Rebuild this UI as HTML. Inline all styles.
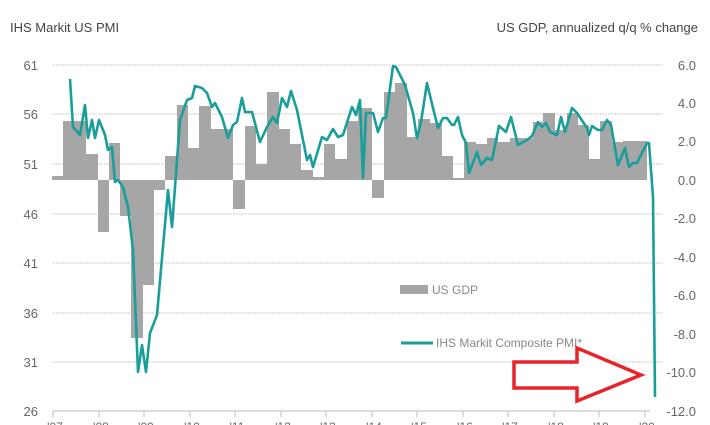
<!DOCTYPE html>
<html><head><meta charset="utf-8"><style>
html,body{margin:0;padding:0;background:#fff;}
svg{display:block;font-family:"Liberation Sans",Arial,sans-serif;}
</style></head><body>
<svg width="710" height="425" viewBox="0 0 710 425" xmlns="http://www.w3.org/2000/svg">
<text x="10" y="32" font-size="13" fill="#444">IHS Markit US PMI</text>
<text x="698" y="32" font-size="13" fill="#444" text-anchor="end">US GDP, annualized q/q % change</text>
<g stroke="#c8c8c8" stroke-width="1" stroke-dasharray="2,1">
<line x1="53" x2="663" y1="65" y2="65"/><line x1="53" x2="663" y1="114" y2="114"/>
<line x1="53" x2="663" y1="164" y2="164"/><line x1="53" x2="663" y1="214" y2="214"/>
<line x1="53" x2="663" y1="263" y2="263"/><line x1="53" x2="663" y1="313" y2="313"/>
<line x1="53" x2="663" y1="362" y2="362"/>
</g>
<g font-size="13" fill="#666" text-anchor="end">
<text x="38" y="70">61</text><text x="38" y="119">56</text><text x="38" y="169">51</text>
<text x="38" y="219">46</text><text x="38" y="268">41</text><text x="38" y="318">36</text>
<text x="38" y="367">31</text><text x="38" y="416">26</text>
</g>
<g font-size="13" fill="#666" text-anchor="end">
<text x="696" y="70">6.0</text><text x="696" y="108">4.0</text><text x="696" y="146">2.0</text>
<text x="696" y="185">0.0</text><text x="696" y="223">-2.0</text><text x="696" y="262">-4.0</text>
<text x="696" y="300">-6.0</text><text x="696" y="339">-8.0</text><text x="696" y="377">-10.0</text>
<text x="696" y="416">-12.0</text>
</g>
<g fill="#a6a6a6">
<rect x="52" y="176" width="11" height="4"/>
<rect x="63" y="121" width="23" height="59"/>
<rect x="86" y="154" width="12" height="26"/>
<rect x="98" y="180" width="11" height="52"/>
<rect x="109" y="143" width="11" height="37"/>
<rect x="120" y="180" width="11" height="36"/>
<rect x="131" y="180" width="12" height="158"/>
<rect x="143" y="180" width="11" height="105"/>
<rect x="154" y="180" width="11" height="10"/>
<rect x="165" y="156" width="12" height="24"/>
<rect x="177" y="105" width="11" height="75"/>
<rect x="188" y="148" width="11" height="32"/>
<rect x="199" y="106" width="12" height="74"/>
<rect x="211" y="129" width="22" height="51"/>
<rect x="233" y="180" width="12" height="29"/>
<rect x="245" y="126" width="11" height="54"/>
<rect x="256" y="164" width="11" height="16"/>
<rect x="267" y="92" width="12" height="88"/>
<rect x="279" y="129" width="11" height="51"/>
<rect x="290" y="144" width="11" height="36"/>
<rect x="301" y="170" width="12" height="10"/>
<rect x="313" y="177" width="11" height="3"/>
<rect x="324" y="144" width="11" height="36"/>
<rect x="335" y="159" width="12" height="21"/>
<rect x="347" y="121" width="11" height="59"/>
<rect x="358" y="108" width="14" height="72"/>
<rect x="372" y="180" width="12" height="18"/>
<rect x="384" y="92" width="11" height="88"/>
<rect x="395" y="83" width="12" height="97"/>
<rect x="407" y="137" width="11" height="43"/>
<rect x="418" y="119" width="12" height="61"/>
<rect x="430" y="123" width="12" height="57"/>
<rect x="442" y="156" width="11" height="24"/>
<rect x="453" y="178" width="11" height="2"/>
<rect x="464" y="142" width="12" height="38"/>
<rect x="476" y="144" width="11" height="36"/>
<rect x="487" y="138" width="11" height="42"/>
<rect x="498" y="142" width="12" height="38"/>
<rect x="510" y="138" width="23" height="42"/>
<rect x="533" y="122" width="10" height="58"/>
<rect x="543" y="113" width="12" height="67"/>
<rect x="555" y="130" width="12" height="50"/>
<rect x="567" y="113" width="11" height="67"/>
<rect x="578" y="125" width="11" height="55"/>
<rect x="589" y="159" width="11" height="21"/>
<rect x="600" y="121" width="12" height="59"/>
<rect x="612" y="142" width="11" height="38"/>
<rect x="623" y="141" width="24" height="39"/>
</g>
<polyline fill="none" stroke="#1a9e9a" stroke-width="2.6" stroke-linejoin="round" points="70,79 73,127 80,135 85,105 88,138 92,120 95,138 99,120 105,135 108,150 112,147 115,182 118,180 123,187 128,207 133,250 138,372 142,345 146,372 150,333 157,315 168,190 172,227 180,120 187,100 192,98 195,86 202,88 207,93 212,107 215,103 222,117 228,138 233,125 237,122 242,98 245,112 252,112 260,142 267,127 273,117 277,123 282,98 287,107 291,91 297,110 307,160 310,155 313,167 322,137 327,140 333,129 338,137 343,135 352,107 356,115 360,100 363,178 366,113 373,113 378,132 383,118 386,118 393,66 396,67 405,85 413,113 417,138 421,122 427,83 433,108 438,128 443,118 447,118 452,125 454,125 458,117 462,135 466,143 469,173 477,152 481,165 487,158 492,160 499,126 506,132 511,117 518,145 527,140 532,136 538,122 542,127 546,123 550,132 557,135 561,117 565,132 572,108 577,113 587,128 589,135 592,126 598,130 602,130 607,120 611,125 618,165 625,148 629,167 633,163 637,163 647,143 649,143 653,197 655,397"/>
<line x1="53" x2="650" y1="411" y2="411" stroke="#bbb" stroke-width="1"/>
<g stroke="#bbb" stroke-width="1">
<line x1="53" x2="53" y1="411" y2="417"/><line x1="99" x2="99" y1="411" y2="417"/><line x1="144" x2="144" y1="411" y2="417"/><line x1="190" x2="190" y1="411" y2="417"/><line x1="235" x2="235" y1="411" y2="417"/><line x1="281" x2="281" y1="411" y2="417"/><line x1="326" x2="326" y1="411" y2="417"/><line x1="372" x2="372" y1="411" y2="417"/><line x1="417" x2="417" y1="411" y2="417"/><line x1="463" x2="463" y1="411" y2="417"/><line x1="508" x2="508" y1="411" y2="417"/><line x1="554" x2="554" y1="411" y2="417"/><line x1="599" x2="599" y1="411" y2="417"/><line x1="645" x2="645" y1="411" y2="417"/>
</g>
<g font-size="12" fill="#666" text-anchor="middle">
<text x="55" y="431">'07</text><text x="101" y="431">'08</text><text x="146" y="431">'09</text><text x="192" y="431">'10</text><text x="237" y="431">'11</text><text x="283" y="431">'12</text><text x="328" y="431">'13</text><text x="374" y="431">'14</text><text x="419" y="431">'15</text><text x="465" y="431">'16</text><text x="510" y="431">'17</text><text x="556" y="431">'18</text><text x="601" y="431">'19</text><text x="647" y="431">'20</text>
</g>
<rect x="400" y="285" width="28" height="9" fill="#a6a6a6"/>
<text x="432" y="294" font-size="12" fill="#888">US GDP</text>
<line x1="401" x2="433" y1="343" y2="343" stroke="#1a9e9a" stroke-width="3"/>
<text x="436" y="347" font-size="12" fill="#888">IHS Markit Composite PMI*</text>
<polygon points="514,362 577,362 577,348 641,375 577,401 577,388 514,388" fill="#fff" stroke="#e8242a" stroke-width="3.5" stroke-linejoin="miter"/>
</svg>
</body></html>
